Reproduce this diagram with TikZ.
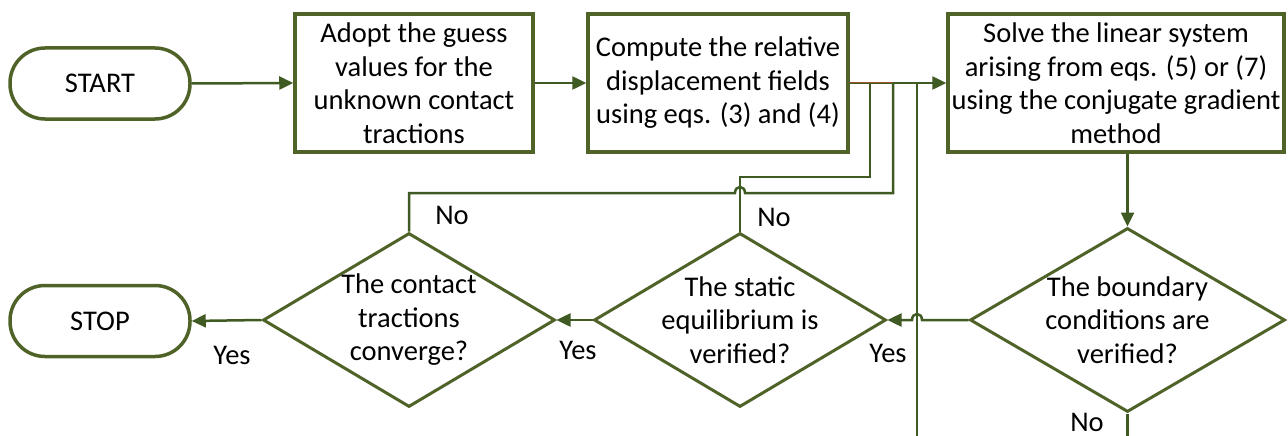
\documentclass[tikz,border=0pt]{standalone}
\usepackage{fontspec}
\setmainfont{Carlito}
\usetikzlibrary{shapes.geometric,arrows.meta}
\definecolor{olive}{HTML}{4F6228}
\definecolor{darkol}{HTML}{3F5A22}
\definecolor{rust}{HTML}{A0522D}
\tikzset{
  stadium/.style={draw=olive,line width=3.5pt,rounded corners=35pt,minimum width=180pt,minimum height=71pt,inner sep=0pt},
  procbox/.style={draw=olive,line width=3.5pt,minimum height=138pt,inner sep=0pt,align=center},
  decision/.style={diamond,draw=olive,line width=3pt,inner sep=0pt},
  dtext/.style={align=center,inner sep=0pt},
  conn/.style={draw=darkol,line width=2.5pt},
  arr/.style={conn,-{Triangle[length=14pt,width=13pt]}},
  lab/.style={anchor=base,inner sep=0pt}
}
\begin{document}
\begin{tikzpicture}[x=1pt,y=-1pt,font=\fontsize{28.5}{33.5}\selectfont]
\useasboundingbox (0,0) rectangle (1288,436);
% terminals
\node[stadium] (start) at (100,83.5) {START};
\node[stadium] (stop) at (100,321) {STOP};
% process boxes
\node[procbox,minimum width=238pt] (b1) at (414,83) {Adopt the guess\\values for the\\unknown contact\\tractions};
\node[procbox,minimum width=260pt] (b2) at (718,83) {Compute the relative\\displacement fields\\using eqs. (3) and (4)};
\node[procbox,minimum width=336pt] (b3) at (1116,83) {Solve the linear system\\arising from eqs. (5) or (7)\\using the conjugate gradient\\method};
% decisions
\node[decision,minimum width=292pt,minimum height=174pt] (ct) at (409,320) {};
\node[dtext] (ctt) at (ct.center) {The contact\\tractions\\converge?};
\node[decision,minimum width=292pt,minimum height=174pt] (st) at (740,320) {};
\node[dtext] (stt) at (st.center) {The static\\equilibrium is\\verified?};
\node[decision,minimum width=315pt,minimum height=184pt] (bd) at (1127.5,320) {};
\node[dtext] (bdt) at (bd.center) {The boundary\\conditions are\\verified?};
% junction coordinates
\coordinate (j1) at (870,83);
\coordinate (j2) at (893,83);
\coordinate (j3) at (917,83);
\coordinate (e3) at (917,436);
\coordinate (e4) at (1127.5,436);
% main flow
\draw[arr] (start.east) -- (b1.west);
\draw[arr] (b1.east) -- (b2.west);
\draw[arr] (b2.east) -- (b3.west);
\draw[rust,line width=0.9pt] (b2.east) ++(0,-0.7) -- ([yshift=0.7pt]j2);
\draw[arr] (bd.north |- b3.south) -- (bd.north);
\draw[arr] (bd.west) -- (922,320) .. controls (922,312) and (912,312) .. (912,320) -- (st.east);
\draw[arr] (st.west) -- (ct.east);
\draw[arr] (ct.west) -- (stop.east);
% feedback lines
\draw[conn] (st.north) -- (740,177) -- (870,177) -- (j1);
\draw[conn] (ct.north) -- (409,193) -- (735,193) .. controls (735,185) and (745,185) .. (745,193) -- (893,193) -- (j2);
\draw[conn] (j3) -- (e3);
\draw[conn] (bd.south) -- (e4);
% labels
\node[lab] (n1) at (452,224) {No};
\node[lab] (n2) at (774,226) {No};
\node[lab] (y1) at (232,364) {Yes};
\node[lab] (y2) at (578,359) {Yes};
\node[lab] (y3) at (888,362) {Yes};
\node[lab] (n3) at (1087,431) {No};
\end{tikzpicture}
\end{document}
